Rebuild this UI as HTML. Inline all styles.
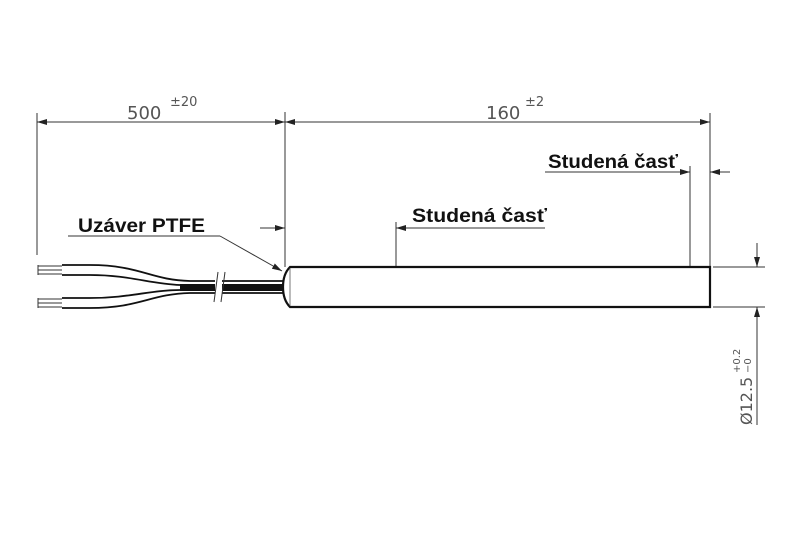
<!DOCTYPE html>
<html><head><meta charset="utf-8"><style>
html,body{margin:0;padding:0;background:#fff;}
svg{display:block}
</style></head><body>
<svg width="800" height="533" viewBox="0 0 800 533" xmlns="http://www.w3.org/2000/svg">
<defs>
<marker id="a" viewBox="0 0 10 6" refX="10" refY="3" markerWidth="10" markerHeight="6" orient="auto-start-reverse" markerUnits="userSpaceOnUse"><path d="M0,0 L10,3 L0,6 z" fill="#222"/></marker>
</defs>
<g stroke="#333" stroke-width="1" fill="none">
<line x1="37" y1="113" x2="37" y2="255"/>
<line x1="285" y1="112" x2="285" y2="267"/>
<line x1="710" y1="113" x2="710" y2="267"/>
<line x1="37" y1="122" x2="285" y2="122" marker-start="url(#a)" marker-end="url(#a)"/>
<line x1="285" y1="122" x2="710" y2="122" marker-start="url(#a)" marker-end="url(#a)"/>
<line x1="545" y1="172" x2="690" y2="172" marker-end="url(#a)"/>
<line x1="730" y1="172" x2="710" y2="172" marker-end="url(#a)"/>
<line x1="690" y1="166" x2="690" y2="267"/>
<line x1="690" y1="267" x2="690" y2="307" stroke-dasharray="6,3"/>
<line x1="260" y1="228" x2="285" y2="228" marker-end="url(#a)"/>
<line x1="545" y1="228" x2="396" y2="228" marker-end="url(#a)"/>
<line x1="396" y1="222" x2="396" y2="267"/>
<line x1="396" y1="267" x2="396" y2="307" stroke-dasharray="6,3"/>
<line x1="68" y1="236" x2="220" y2="236"/>
<line x1="220" y1="236" x2="282" y2="271" marker-end="url(#a)"/>
<line x1="713" y1="267" x2="765" y2="267"/>
<line x1="713" y1="307" x2="765" y2="307"/>
<line x1="757" y1="243" x2="757" y2="267" marker-end="url(#a)"/>
<line x1="757" y1="425" x2="757" y2="307" marker-end="url(#a)"/>
</g>
<path d="M290,267 L710,267 L710,307 L290,307 Q283,300 283,287 Q283,274 290,267 Z" fill="#fff" stroke="#111" stroke-width="2.2"/>
<line x1="290" y1="268" x2="290" y2="306" stroke="#555" stroke-width="0.8"/>
<g stroke="#111" fill="none" stroke-width="1.8">
<path d="M62,265 L90,265 C140,265 150,280 190,281 L284,281"/>
<path d="M62,275 L90,275 C130,275 150,284 180,285"/>
<path d="M62,298 L90,298 C130,298 150,290 180,290"/>
<path d="M62,308 L90,308 C140,308 150,294 190,293 L284,293"/>
</g>
<rect x="180" y="284" width="104" height="7" fill="#111"/>
<g stroke="#333" stroke-width="1">
<line x1="38" y1="266" x2="62" y2="266"/><line x1="38" y1="270" x2="62" y2="270"/><line x1="38" y1="274" x2="62" y2="274"/>
<line x1="38" y1="299" x2="62" y2="299"/><line x1="38" y1="303" x2="62" y2="303"/><line x1="38" y1="307" x2="62" y2="307"/>
<line x1="38" y1="265" x2="38" y2="275"/><line x1="38" y1="298" x2="38" y2="308"/>
</g>
<rect x="215" y="276" width="7" height="22" fill="#fff"/>
<line x1="214" y1="302" x2="218" y2="272" stroke="#333"/>
<line x1="221" y1="302" x2="225" y2="272" stroke="#333"/>
<g font-family="'DejaVu Sans','Liberation Sans',sans-serif" fill="#555">
<text x="127" y="119" font-size="18">500</text>
<text x="170" y="106" font-size="13">±20</text>
<text x="486" y="119" font-size="18">160</text>
<text x="525" y="106" font-size="13">±2</text>
</g>
<g font-family="'Liberation Sans',sans-serif" fill="#111" font-size="19" font-weight="bold">
<text x="78" y="232" textLength="127" lengthAdjust="spacingAndGlyphs">Uzáver PTFE</text>
<text x="412" y="222" textLength="135" lengthAdjust="spacingAndGlyphs">Studená časť</text>
<text x="548" y="168" textLength="130" lengthAdjust="spacingAndGlyphs">Studená časť</text>
</g>
<g font-family="'DejaVu Sans','Liberation Sans',sans-serif" fill="#555" transform="translate(752,425) rotate(-90)">
<text x="0" y="0" font-size="16">Ø12.5</text>
<text x="52" y="-12" font-size="10">+0.2</text>
<text x="52" y="-1" font-size="10">−0</text>
</g>
</svg>
</body></html>
